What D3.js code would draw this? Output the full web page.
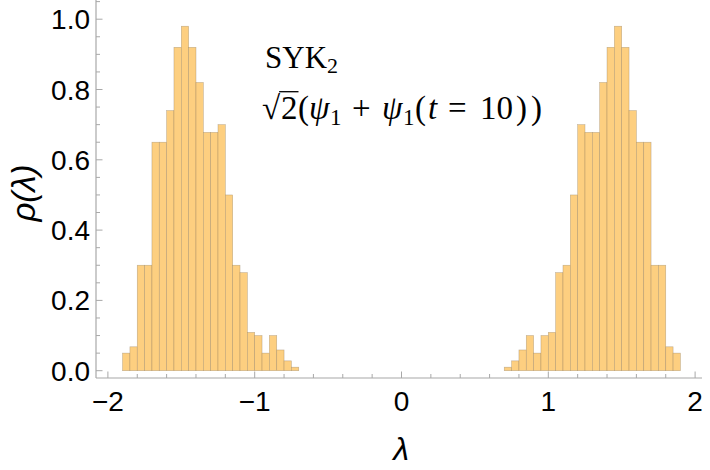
<!DOCTYPE html>
<html>
<head>
<meta charset="utf-8">
<script src="https://cdn.jsdelivr.net/npm/d3@7"></script>
<style>
  html, body { margin: 0; padding: 0; background: #fff; }
  svg { display: block; }
</style>
</head>
<body>
<svg id="chart" width="710" height="470"></svg>
<script>
// ---- data ----
const binWidth = 0.05;
const leftBinStarts = [-1.90,-1.85,-1.80,-1.75,-1.70,-1.65,-1.60,-1.55,-1.50,-1.45,-1.40,-1.35,-1.30,-1.25,-1.20,-1.15,-1.10,-1.05,-1.00,-0.95,-0.90,-0.85,-0.80,-0.75];
const leftDensity   = [0.050,0.068,0.300,0.300,0.650,0.650,0.740,0.920,0.980,0.920,0.820,0.678,0.678,0.700,0.500,0.300,0.279,0.109,0.100,0.050,0.100,0.059,0.028,0.010];
const rightBinStarts = [0.70,0.75,0.80,0.85,0.90,0.95,1.00,1.05,1.10,1.15,1.20,1.25,1.30,1.35,1.40,1.45,1.50,1.55,1.60,1.65,1.70,1.75,1.80,1.85];
const rightDensity   = [0.010,0.028,0.059,0.100,0.050,0.100,0.109,0.279,0.300,0.500,0.700,0.678,0.678,0.820,0.920,0.980,0.920,0.740,0.650,0.650,0.300,0.300,0.068,0.050];
const xMajorTicks = [-2,-1,0,1,2];
const xMinorTicks = [-1.8,-1.6,-1.4,-1.2,-0.8,-0.6,-0.4,-0.2,0.2,0.4,0.6,0.8,1.2,1.4,1.6,1.8];
const yMajorTicks = [0,0.2,0.4,0.6,0.8,1.0];
const yMinorTicks = [0.05,0.1,0.15,0.25,0.3,0.35,0.45,0.5,0.55,0.65,0.7,0.75,0.85,0.9,0.95,1.05];
const xLabel = "λ";
const yLabel = "ρ(λ)";

// ---- scales ----
const svg = d3.select("#chart");
const x = d3.scaleLinear().domain([-2, 2]).range([107.9, 695.1]);
const y = d3.scaleLinear().domain([0, 1]).range([370.7, 19.2]);
const axisY = 378;   // pixel row of horizontal axis
const axisX = 96;    // pixel column of vertical axis

const bars = leftBinStarts.map((s, i) => ({x0: s, v: leftDensity[i]}))
  .concat(rightBinStarts.map((s, i) => ({x0: s, v: rightDensity[i]})));

svg.append("g").selectAll("rect").data(bars).join("rect")
  .attr("x", d => x(d.x0))
  .attr("y", d => y(d.v))
  .attr("width", d => x(d.x0 + binWidth) - x(d.x0))
  .attr("height", d => y(0) - y(d.v))
  .attr("fill", "#fdcf80")
  .attr("stroke", "rgba(140,120,90,0.5)")
  .attr("stroke-width", 0.6);

// ---- axes ----
const axisColor = "#a8a8a8";
const ax = svg.append("g");
ax.append("line").attr("x1", axisX).attr("x2", 702).attr("y1", axisY).attr("y2", axisY)
  .attr("stroke", axisColor).attr("stroke-width", 1.2);
ax.append("line").attr("x1", axisX).attr("x2", axisX).attr("y1", axisY).attr("y2", 0)
  .attr("stroke", axisColor).attr("stroke-width", 1.2);

ax.selectAll(".xmaj").data(xMajorTicks).join("line")
  .attr("x1", d => x(d)).attr("x2", d => x(d)).attr("y1", axisY).attr("y2", axisY - 6.5)
  .attr("stroke", axisColor).attr("stroke-width", 1);
ax.selectAll(".xmin").data(xMinorTicks).join("line")
  .attr("x1", d => x(d)).attr("x2", d => x(d)).attr("y1", axisY).attr("y2", axisY - 4)
  .attr("stroke", axisColor).attr("stroke-width", 1);
ax.selectAll(".ymaj").data(yMajorTicks).join("line")
  .attr("y1", d => y(d)).attr("y2", d => y(d)).attr("x1", axisX).attr("x2", axisX + 6.5)
  .attr("stroke", axisColor).attr("stroke-width", 1);
ax.selectAll(".ymin").data(yMinorTicks).join("line")
  .attr("y1", d => y(d)).attr("y2", d => y(d)).attr("x1", axisX).attr("x2", axisX + 4)
  .attr("stroke", axisColor).attr("stroke-width", 1);

const fmtX = d => d < 0 ? "\u2212" + Math.abs(d) : String(d);
ax.selectAll(".xlab").data(xMajorTicks).join("text")
  .attr("x", d => x(d)).attr("y", 411)
  .attr("text-anchor", "middle")
  .attr("font-family", "Liberation Sans, Arial, sans-serif")
  .attr("font-size", 28).attr("fill", "#000")
  .text(fmtX);
ax.selectAll(".ylab").data(yMajorTicks).join("text")
  .attr("x", 90).attr("y", d => y(d) + 10)
  .attr("text-anchor", "end")
  .attr("font-family", "Liberation Sans, Arial, sans-serif")
  .attr("font-size", 28).attr("fill", "#000")
  .text(d => d.toFixed(1));

// axis titles
svg.append("text").attr("x", 401).attr("y", 460)
  .attr("text-anchor", "middle")
  .attr("font-family", "Liberation Sans, Arial, sans-serif")
  .attr("font-style", "italic").attr("font-size", 32).attr("fill", "#000")
  .text(xLabel);
svg.append("text")
  .attr("transform", "translate(35,193) rotate(-90)")
  .attr("text-anchor", "middle")
  .attr("font-family", "Liberation Sans, Arial, sans-serif")
  .attr("font-style", "italic").attr("font-size", 33).attr("fill", "#000")
  .text(yLabel);

// ---- annotation ----
const serif = "Liberation Serif, Times New Roman, serif";
const t1 = svg.append("text").attr("x", 265).attr("y", 68)
  .attr("font-family", serif).attr("font-size", 31).attr("fill", "#000");
t1.append("tspan").text("SYK");
t1.append("tspan").attr("font-size", 22).attr("dy", 5).text("2");

const mainSize = 33, subSize = 23, base2 = 119;
const t2 = svg.append("text")
  .attr("font-family", serif).attr("fill", "#000");
const pieces = [
  {t: "\u221A", x: 262},
  {t: "2", x: 281},
  {t: "(", x: 298},
  {t: "\u03C8", x: 309, it: true},
  {t: "1", x: 330, sub: true},
  {t: "+", x: 352},
  {t: "\u03C8", x: 382, it: true},
  {t: "1", x: 403, sub: true},
  {t: "(", x: 415},
  {t: "t", x: 428, it: true},
  {t: "=", x: 448},
  {t: "10", x: 480},
  {t: ")", x: 516},
  {t: ")", x: 531}
];
pieces.forEach(p => {
  t2.append("tspan")
    .attr("x", p.x)
    .attr("y", p.sub ? base2 + 6 : base2)
    .attr("font-size", p.sub ? subSize : mainSize)
    .attr("font-style", p.it ? "italic" : "normal")
    .text(p.t);
});

// overline for the square root
const node = t2.node();
const sx = node.getEndPositionOfChar(0).x;
const ex = node.getEndPositionOfChar(1).x;
svg.append("line").attr("x1", sx - 1).attr("x2", ex + 1)
  .attr("y1", base2 - 27.3).attr("y2", base2 - 27.3)
  .attr("stroke", "#000").attr("stroke-width", 1.3);
</script>
</body>
</html>
